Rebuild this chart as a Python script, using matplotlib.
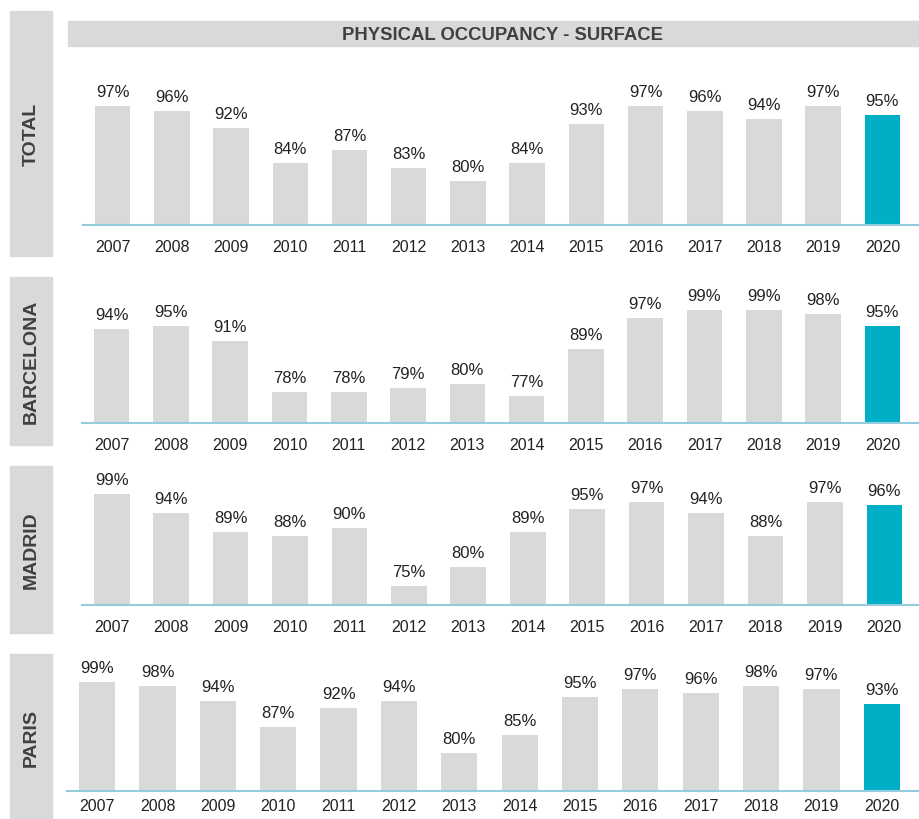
import matplotlib
matplotlib.use("Agg")
import matplotlib.pyplot as plt
from matplotlib.patches import Rectangle

plt.rcParams["font.family"] = ["Liberation Sans", "DejaVu Sans"]

years = [str(y) for y in range(2007, 2021)]
cities = ["TOTAL", "BARCELONA", "MADRID", "PARIS"]
total = [97, 96, 92, 84, 87, 83, 80, 84, 93, 97, 96, 94, 97, 95]
barcelona = [94, 95, 91, 78, 78, 79, 80, 77, 89, 97, 99, 99, 98, 95]
madrid = [99, 94, 89, 88, 90, 75, 80, 89, 95, 97, 94, 88, 97, 96]
paris = [99, 98, 94, 87, 92, 94, 80, 85, 95, 97, 96, 98, 97, 93]
series = [total, barcelona, madrid, paris]

W, H = 920, 820
GREY = "#D9D9D9"
TEAL = "#00AEC6"
BASE = "#93CDDD"
TXT = "#222222"
HEAD = "#404040"

fig = plt.figure(figsize=(W / 100, H / 100), dpi=100)


def box(x0, y0, x1, y1):
    # pixel box (top-left origin) -> figure fraction rect
    return [x0 / W, 1 - y1 / H, (x1 - x0) / W, (y1 - y0) / H]


# title strip
fig.patches.append(Rectangle((68 / W, 1 - 47 / H), (918 - 68) / W, 25 / H,
                             transform=fig.transFigure, color=GREY, zorder=0))
fig.text(503 / W, 1 - 35 / H, "PHYSICAL OCCUPANCY - SURFACE", ha="center",
         va="center", fontsize=13.3, fontweight="bold", color=HEAD)

# panel geometry in pixels: side box (top, bottom), plot area (left, top, right, bottom)
side = [(12, 257), (278, 446), (467, 634), (655, 822)]
plots = [(83, 94, 918, 226), (82, 307, 918, 424),
         (82, 491, 920, 606), (67, 679, 918, 792)]
tick_pad = [10, 10, 10, 5]

for name, vals, (s0, s1), (px0, py0, px1, py1), pad in zip(
        cities, series, side, plots, tick_pad):
    fig.patches.append(Rectangle((10 / W, 1 - s1 / H), 42 / W, (s1 - s0) / H,
                                 transform=fig.transFigure, color=GREY, zorder=0))
    fig.text(31 / W, 1 - (s0 + s1) / 2 / H, name, rotation=90, ha="center",
             va="center", fontsize=14, fontweight="bold", color=HEAD)

    ax = fig.add_axes(box(px0, py0, px1, py1))
    colors = [GREY] * (len(vals) - 1) + [TEAL]
    x = range(len(vals))
    ax.bar(x, vals, width=0.6, color=colors, bottom=0, zorder=2)
    ax.set_ylim(70, 100)
    ax.set_xlim(-0.5, len(vals) - 0.4)
    for i, v in enumerate(vals):
        ax.annotate(f"{v}%", (i, v), xytext=(0, 5), textcoords="offset points",
                    ha="center", va="bottom", fontsize=12, color=TXT,
                    annotation_clip=False, zorder=3)
    ax.set_xticks(list(x))
    ax.set_xticklabels(years, fontsize=11.5, color=TXT)
    ax.tick_params(axis="x", length=0, pad=pad)
    ax.set_yticks([])
    for sp in ["top", "right", "left"]:
        ax.spines[sp].set_visible(False)
    ax.spines["bottom"].set_color(BASE)
    ax.spines["bottom"].set_linewidth(1.5)
    ax.patch.set_alpha(0)

fig.savefig("out.png", dpi=100)
